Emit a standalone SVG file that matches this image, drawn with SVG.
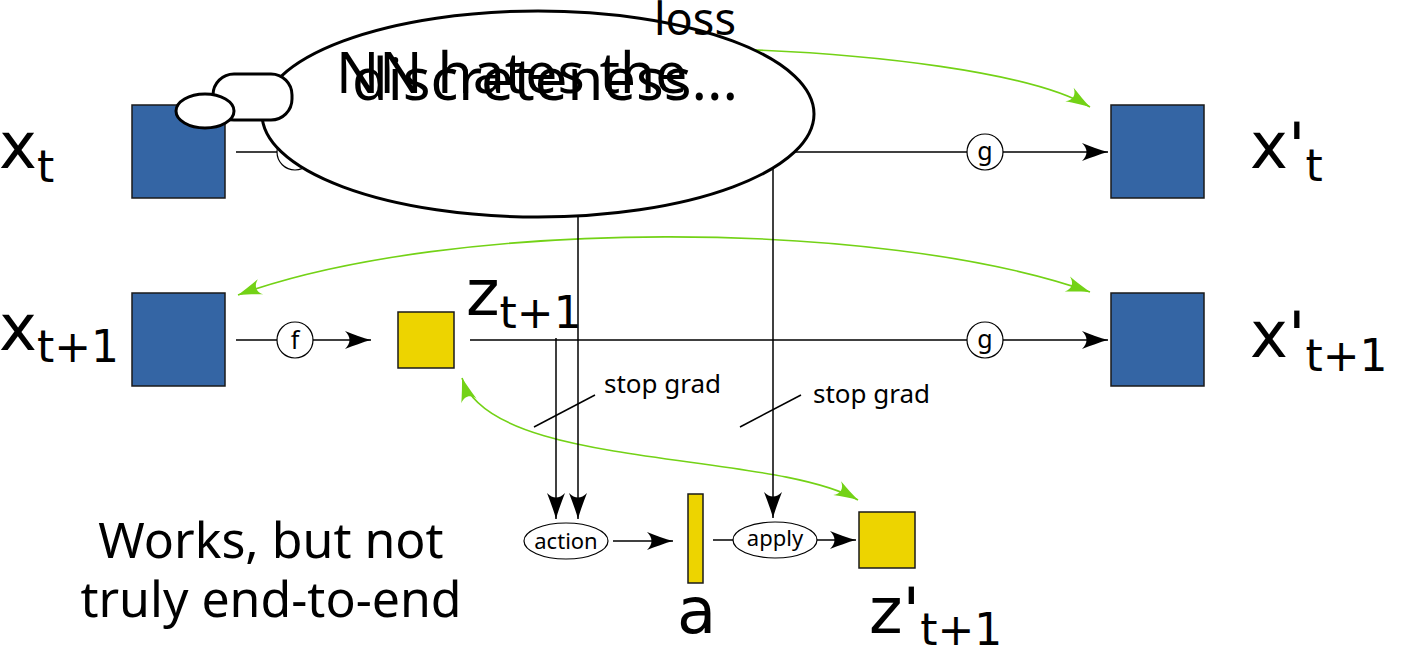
<svg xmlns="http://www.w3.org/2000/svg" width="1402" height="645" viewBox="0 0 1402 645">
<style>
.blue{fill:#3465a4;stroke:#1a1a1a;stroke-width:1.5}
.yel{fill:#edd400;stroke:#1a1a1a;stroke-width:1.5}
.ln{fill:none;stroke:#000;stroke-width:1.5}
.gr{fill:none;stroke:#73d216;stroke-width:1.6}
.lbl{fill:#fff;stroke:#000;stroke-width:1.2}
.bub{fill:#fff;stroke:#000;stroke-width:3}
.math{font-family:"DejaVu Sans",sans-serif;font-size:64px;fill:#000}
.sub{font-size:44px}
.sans{font-family:"Noto Sans","Open Sans",sans-serif;fill:#000}
</style>
<defs>
<marker id="ab" viewBox="-27 -10 28 20" refX="0" refY="0" markerWidth="28" markerHeight="20" markerUnits="userSpaceOnUse" orient="auto">
<path d="M0 0 C-8 -2 -18 -6 -26 -9 C-20 -3 -20 3 -26 9 C-18 6 -8 2 0 0 Z" fill="#000"/>
</marker>
<marker id="ag" viewBox="-25 -9 26 18" refX="0" refY="0" markerWidth="26" markerHeight="18" markerUnits="userSpaceOnUse" orient="auto-start-reverse">
<path d="M0 0 C-7 -2 -16 -5 -24 -8 C-18 -3 -18 3 -24 8 C-16 5 -7 2 0 0 Z" fill="#73d216"/>
</marker>
</defs>

<g id="connectors">
<path class="gr" d="M240 100 C450 20 980 40 1090 107" marker-end="url(#ag)"/>
<path class="gr" d="M238 295 C450 218 880 218 1090 292" marker-start="url(#ag)" marker-end="url(#ag)"/>
<path class="gr" d="M462 378 C490 470 770 450 858 500" marker-start="url(#ag)" marker-end="url(#ag)"/>
<line class="ln" x1="236" y1="152" x2="1108" y2="152" marker-end="url(#ab)"/>
<line class="ln" x1="236" y1="340" x2="371" y2="340" marker-end="url(#ab)"/>
<line class="ln" x1="470" y1="340" x2="1108" y2="340" marker-end="url(#ab)"/>
<line class="ln" x1="556" y1="338" x2="556" y2="519" marker-end="url(#ab)"/>
<line class="ln" x1="578" y1="152" x2="578" y2="519" marker-end="url(#ab)"/>
<line class="ln" x1="773" y1="152" x2="773" y2="518" marker-end="url(#ab)"/>
<line class="ln" x1="613" y1="541" x2="673" y2="541" marker-end="url(#ab)"/>
<line class="ln" x1="713" y1="540" x2="856" y2="540" marker-end="url(#ab)"/>
<line class="ln" x1="534" y1="427" x2="595" y2="395"/>
<line class="ln" x1="740" y1="427" x2="801" y2="395"/>
<circle class="lbl" cx="295" cy="152" r="18"/>
<circle class="lbl" cx="985" cy="152" r="18"/>
<text class="sans" x="985" y="160" font-size="25" text-anchor="middle">g</text>
<circle class="lbl" cx="295" cy="340" r="18"/>
<text class="sans" x="295" y="349" font-size="25" text-anchor="middle">f</text>
<circle class="lbl" cx="985" cy="340" r="18"/>
<text class="sans" x="985" y="348" font-size="25" text-anchor="middle">g</text>
<ellipse class="lbl" cx="566" cy="541" rx="42" ry="18"/>
<text class="sans" x="566" y="549" font-size="22" text-anchor="middle">action</text>
<ellipse class="lbl" cx="775" cy="540" rx="42" ry="18"/>
<text class="sans" x="775" y="546" font-size="22" text-anchor="middle">apply</text>
<text class="sans" x="604" y="393" font-size="26">stop grad</text>
<text class="sans" x="813" y="403" font-size="26">stop grad</text>
</g>

<g id="xt">
<rect class="blue" x="132" y="105" width="93" height="93"/>
<text class="math" x="-1" y="168">x<tspan class="sub" dy="14">t</tspan></text>
</g>
<g id="xt1">
<rect class="blue" x="132" y="293" width="93" height="93"/>
<text class="math" x="-1" y="350">x<tspan class="sub" dy="12">t+1</tspan></text>
</g>
<g id="xpt">
<rect class="blue" x="1111" y="105" width="93" height="93"/>
<text class="math" x="1250" y="168">x'<tspan class="sub" dy="13">t</tspan></text>
</g>
<g id="xpt1">
<rect class="blue" x="1111" y="293" width="93" height="93"/>
<text class="math" x="1250" y="357">x'<tspan class="sub" dy="14">t+1</tspan></text>
</g>
<g id="zt1">
<rect class="yel" x="398" y="312" width="56" height="56"/>
<text class="math" x="466" y="315">z<tspan class="sub" dy="13">t+1</tspan></text>
</g>
<g id="a">
<rect class="yel" x="688" y="494" width="15" height="89"/>
<text class="math" x="677" y="633">a</text>
</g>
<g id="zpt1">
<rect class="yel" x="859" y="512" width="56" height="56"/>
<text class="math" x="869" y="633">z'<tspan class="sub" dy="12">t+1</tspan></text>
</g>

<g id="thought">
<ellipse class="bub" cx="538" cy="114" rx="276" ry="103"/>
<rect class="bub" x="213" y="74" width="79" height="46" rx="21" ry="21"/>
<ellipse class="bub" cx="205" cy="111" rx="29" ry="17"/>
<text class="sans" x="336" y="93" font-size="57">NN hates the</text>
<text class="sans" x="352" y="100" font-size="58">discreteness...</text>
</g>

<g id="loss">
<text class="sans" x="654" y="35" font-size="45">loss</text>
</g>

<g id="note">
<text class="sans" x="271" y="558" font-size="50" text-anchor="middle">Works, but not</text>
<text class="sans" x="271" y="617" font-size="50" text-anchor="middle">truly end-to-end</text>
</g>
</svg>
